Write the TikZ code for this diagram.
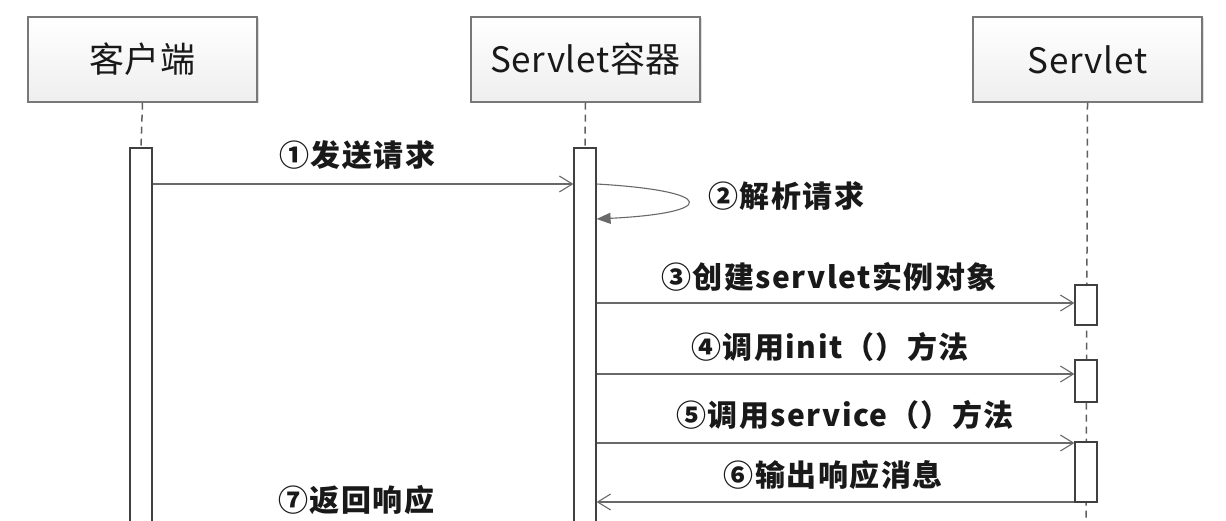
\documentclass[tikz,border=0pt]{standalone}
\usepackage{fontspec}
\newfontfamily\headfont[LetterSpace=2]{Noto Sans CJK SC}
\newfontfamily\labfont[LetterSpace=5]{Noto Sans CJK SC}
\usetikzlibrary{arrows.meta,shadows}
\definecolor{linegray}{RGB}{105,105,105}
\definecolor{boxgray}{RGB}{120,120,120}
\definecolor{txt}{RGB}{25,25,25}
\begin{document}
\begin{tikzpicture}[x=1pt,y=-1pt,
  head/.style={draw=boxgray, line width=1.3pt, top color=white, bottom color=gray!13,
    minimum width=229pt, minimum height=85pt, inner sep=0pt,
    font=\headfont\fontsize{35}{35}\selectfont, text=txt,
    drop shadow={shadow xshift=1.5pt, shadow yshift=-1.5pt, opacity=0.25}},
  bar/.style={draw=black!75, line width=1.2pt, fill=white, minimum width=22pt, inner sep=0pt},
  life/.style={draw=gray!75!black, line width=1.5pt, dash pattern=on 7pt off 5pt},
  msg/.style={draw=linegray, line width=1.1pt, -{Straight Barb[length=13pt,width=16pt,line width=1.1pt]}},
  self/.style={draw=linegray, line width=1.1pt, -{Triangle[length=14pt,width=11pt]}},
  lab/.style={font=\labfont\bfseries\fontsize{30}{30}\selectfont, text=txt, inner sep=0pt}]
\useasboundingbox (0,0) rectangle (1226,521);
\clip (0,0) rectangle (1226,521);
\fill[white] (0,0) rectangle (1226,521);
% heads
\node[head] (h1) at (142.5,59.5) {客户端};
\node[head] (h2) at (585.5,59.5) {Servlet容器};
\node[head] (h3) at (1087.5,59.5) {Servlet};
% lifelines
\coordinate (end3) at (1086,540);
\node[bar, minimum height=392pt] (b1) at (141,344) {};
\node[bar, minimum height=392pt] (b2) at (585,344) {};
\draw[life] (h1.south) -- (b1.north);
\draw[life] (h2.south) -- (b2.north);
\draw[life] (h3.south) -- (end3);
\node[bar, minimum height=40pt] (s1) at (1086,305) {};
\node[bar, minimum height=42pt] (s2) at (1086,381) {};
\node[bar, minimum height=60pt] (s3) at (1086,472) {};
% message rows
\coordinate (r1) at (0,184);
\coordinate (r2a) at (0,184);
\coordinate (r2b) at (0,219);
\coordinate (r3) at (0,303);
\coordinate (r4) at (0,374);
\coordinate (r5) at (0,443);
\coordinate (r6) at (0,502);
\draw[msg] (b1.east |- r1) -- (b2.west |- r1);
\draw[self] (b2.east |- r2a) .. controls (718,191) and (718,213) .. (b2.east |- r2b);
\draw[msg] (b2.east |- r3) -- (s1.west |- r3);
\draw[msg] (b2.east |- r4) -- (s2.west |- r4);
\draw[msg] (b2.east |- r5) -- (s3.west |- r5);
\draw[msg] (s3.west |- r6) -- (b2.east |- r6);
% labels
\node[lab] (l1) at (357,155) {①发送请求};
\node[lab] (l2) at (786,196) {②解析请求};
\node[lab] (l3) at (829,277) {③创建servlet实例对象};
\node[lab] (l4) at (830,347) {④调用init（）方法};
\node[lab] (l5) at (845,415) {⑤调用service（）方法};
\node[lab] (l6) at (833,475) {⑥输出响应消息};
\node[lab] (l7) at (356,500) {⑦返回响应};
\end{tikzpicture}
\end{document}
